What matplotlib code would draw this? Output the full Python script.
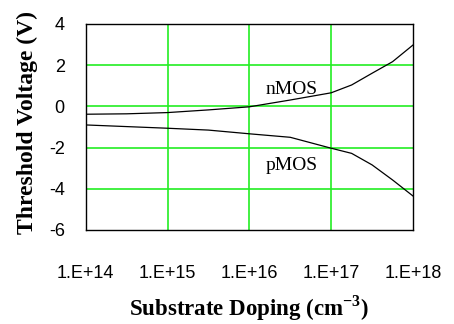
import matplotlib
matplotlib.use("Agg")
import matplotlib.pyplot as plt
import numpy as np

plt.rcParams["axes.unicode_minus"] = False
plt.rcParams["mathtext.fontset"] = "custom"
plt.rcParams["mathtext.rm"] = "Liberation Serif"
plt.rcParams["mathtext.bf"] = "Liberation Serif:bold"

log_doping = [14.0, 14.5, 15.0, 15.5, 16.0, 16.5, 17.0, 17.25, 17.5, 17.75, 18.0]
vt_nmos = [-0.38, -0.36, -0.30, -0.17, -0.02, 0.31, 0.66, 1.04, 1.61, 2.17, 2.98]
vt_pmos = [-0.90, -0.98, -1.06, -1.15, -1.33, -1.50, -2.03, -2.28, -2.84, -3.57, -4.35]
xtick_labels = ["1.E+14", "1.E+15", "1.E+16", "1.E+17", "1.E+18"]

doping = [10 ** v for v in log_doping]

fig = plt.figure(figsize=(4.54, 3.24), dpi=100)
ax = fig.add_axes([85.7 / 454, 1 - 230 / 324, (413 - 85.7) / 454, (230 - 24) / 324])
ax.plot(doping, vt_nmos, color="black", lw=0.9)
ax.plot(doping, vt_pmos, color="black", lw=0.9)
ax.set_xscale("log")
ax.set_xlim(1e14, 1e18)
ax.set_ylim(-6, 4)
ax.set_xticks([1e14, 1e15, 1e16, 1e17, 1e18])
ax.set_xticklabels(xtick_labels)
ax.minorticks_off()
ax.set_yticks([-6, -4, -2, 0, 2, 4])
ax.grid(True, color="#22ee22", lw=1.2)
ax.set_axisbelow(True)
xg = ax.xaxis.get_gridlines()
xg[0].set_visible(False)
xg[-1].set_visible(False)
yg = ax.yaxis.get_gridlines()
yg[0].set_visible(False)
yg[-1].set_visible(False)
for s in ax.spines.values():
    s.set_linewidth(1.0)
ax.tick_params(axis="both", length=0, labelsize=13)
ax.tick_params(axis="y", pad=15)
ax.tick_params(axis="x", pad=25)
for lab in ax.get_xticklabels() + ax.get_yticklabels():
    lab.set_fontfamily("Liberation Sans")
ax.text(3.3e16, 0.84, "nMOS", fontfamily="Liberation Serif", fontsize=14, ha="center", va="center")
ax.text(3.3e16, -2.88, "pMOS", fontfamily="Liberation Serif", fontsize=14, ha="center", va="center")
fig.text(27 / 454, 1 - 123 / 324, "Threshold Voltage (V)", fontfamily="Liberation Serif",
         fontweight="bold", fontsize=17, rotation=90, ha="center", va="center")
fig.text(249 / 454, 1 - 308 / 324, "Substrate Doping (cm$^{\\mathbf{-3}}$)", fontfamily="Liberation Serif",
         fontweight="bold", fontsize=16.5, ha="center", va="center")
fig.savefig("out.png", dpi=100)
